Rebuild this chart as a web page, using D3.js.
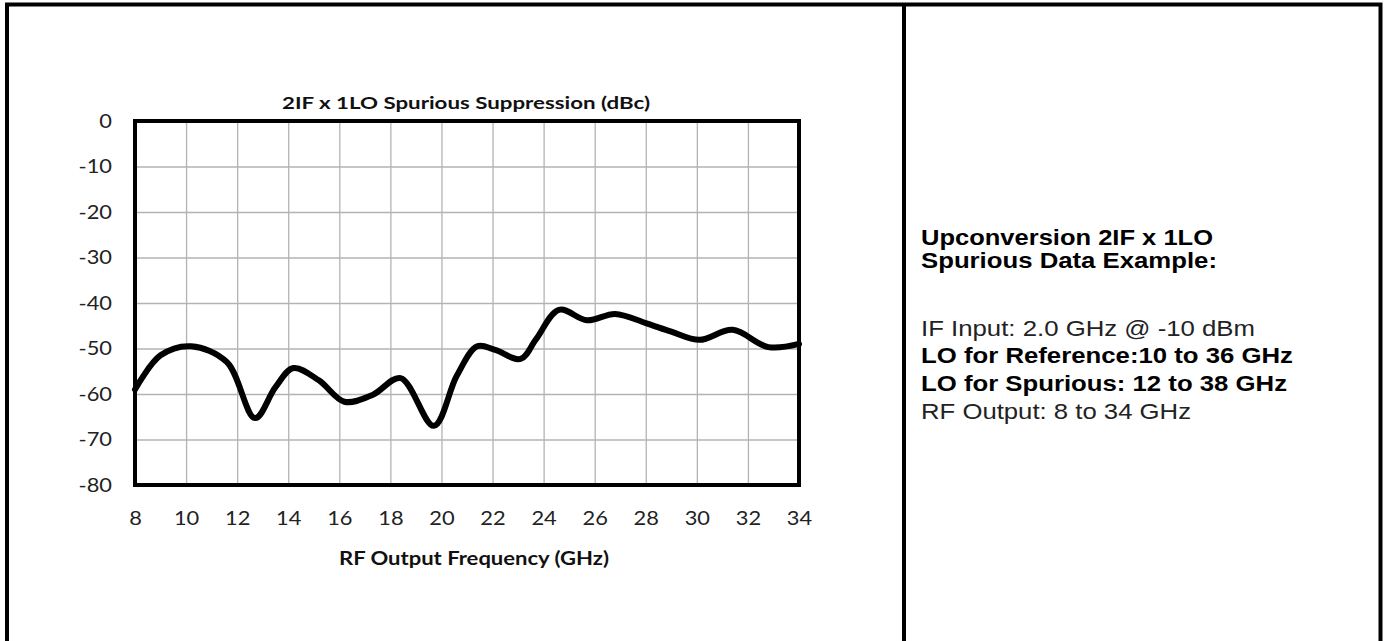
<!DOCTYPE html>
<html>
<head>
<meta charset="utf-8">
<script src="https://cdn.jsdelivr.net/npm/d3@7"></script>
<style>
  html, body { margin: 0; padding: 0; background: #fff; }
  svg { display: block; }
</style>
</head>
<body>
<svg id="chart" width="1385" height="641"></svg>
<script>
// ---- Data ----
const chartTitle = "2IF x 1LO Spurious Suppression (dBc)";
const xAxisTitle = "RF Output Frequency (GHz)";
const xTicks = [8, 10, 12, 14, 16, 18, 20, 22, 24, 26, 28, 30, 32, 34];
const yTicks = [0, -10, -20, -30, -40, -50, -60, -70, -80];
const freqGHz = [8, 9, 10.2, 11.6, 12.7, 13.5, 14.2, 15.2, 16.2, 17.3, 18.4, 19.7, 20.6, 21.4, 22.1, 23.1, 23.7, 24.6, 25.7, 26.8, 28.0, 29.0, 30.1, 31.4, 32.8, 34];
const suppressionDbc = [-59, -51.5, -49.5, -53, -65.3, -58.5, -54.3, -57, -61.7, -60.2, -56.5, -67, -56, -49.5, -50.3, -52.3, -48, -41.5, -43.8, -42.4, -44.4, -46.3, -48.1, -45.9, -49.7, -49];
const noteHeader = ["Upconversion 2IF x 1LO", "Spurious Data Example:"];
const noteLines = [
  { text: "IF Input: 2.0 GHz @ -10 dBm", bold: false },
  { text: "LO for Reference:10 to 36 GHz", bold: true },
  { text: "LO for Spurious: 12 to 38 GHz", bold: true },
  { text: "RF Output: 8 to 34 GHz", bold: false }
];

// ---- Layout ----
const svg = d3.select("#chart");
const plot = { left: 135, right: 799, top: 121, bottom: 485 };
const x = d3.scaleLinear().domain([8, 34]).range([plot.left, plot.right]);
const y = d3.scaleLinear().domain([-80, 0]).range([plot.bottom, plot.top]);
const stretch = 1.15; // reference image is horizontally stretched

// Outer frame
const frame = svg.append("g").attr("stroke", "#000").attr("stroke-width", 4).attr("fill", "none");
frame.append("path").attr("d", "M7,645 L7,4.5 L1380.5,4.5 L1380.5,645");
frame.append("line").attr("x1", 904).attr("x2", 904).attr("y1", 4.5).attr("y2", 645);

// Gridlines
svg.append("g")
  .attr("transform", `translate(0,${plot.bottom})`)
  .call(d3.axisBottom(x).tickValues(xTicks).tickSize(-(plot.bottom - plot.top)).tickFormat(""))
  .call(g => g.select(".domain").remove())
  .call(g => g.selectAll("line").attr("stroke", "#b3b3b3").attr("stroke-width", 1.3));
svg.append("g")
  .attr("transform", `translate(${plot.left},0)`)
  .call(d3.axisLeft(y).tickValues(yTicks).tickSize(-(plot.right - plot.left)).tickFormat(""))
  .call(g => g.select(".domain").remove())
  .call(g => g.selectAll("line").attr("stroke", "#b3b3b3").attr("stroke-width", 1.3));

// Tick labels
const chartFont = "Lato, 'Open Sans', sans-serif";
const fmt = d => String(d);
svg.append("g")
  .attr("transform", `translate(0,${plot.bottom + 33})`)
  .call(d3.axisBottom(x).tickValues(xTicks).tickSize(0).tickPadding(0).tickFormat(fmt))
  .call(g => g.select(".domain").remove())
  .call(g => g.selectAll("text")
    .attr("font-family", chartFont).attr("font-size", 19).attr("fill", "#222")
    .attr("y", 0).attr("dy", "0.35em")
    .attr("transform", `scale(${stretch},1)`));
svg.append("g")
  .attr("transform", `translate(112,0)`)
  .call(d3.axisLeft(y).tickValues(yTicks).tickSize(0).tickPadding(0).tickFormat(fmt))
  .call(g => g.select(".domain").remove())
  .call(g => g.selectAll("text")
    .attr("font-family", chartFont).attr("font-size", 19).attr("fill", "#222")
    .attr("x", 0)
    .attr("transform", `scale(${stretch},1)`));

// Plot border
svg.append("rect")
  .attr("x", plot.left).attr("y", plot.top)
  .attr("width", plot.right - plot.left).attr("height", plot.bottom - plot.top)
  .attr("fill", "none").attr("stroke", "#000").attr("stroke-width", 4);

// Line
const line = d3.line()
  .x((d, i) => x(freqGHz[i]))
  .y(d => y(d))
  .curve(d3.curveCatmullRom.alpha(0.5));
svg.append("path")
  .datum(suppressionDbc)
  .attr("d", line)
  .attr("fill", "none").attr("stroke", "#000").attr("stroke-width", 6)
  .attr("stroke-linejoin", "round").attr("stroke-linecap", "round");

// Titles
svg.append("text")
  .attr("x", 466).attr("y", 109)
  .attr("text-anchor", "middle")
  .attr("font-family", chartFont).attr("font-weight", "bold").attr("font-size", 17.5)
  .attr("fill", "#111")
  .attr("textLength", 368).attr("lengthAdjust", "spacingAndGlyphs")
  .text(chartTitle);
svg.append("text")
  .attr("x", 474).attr("y", 565)
  .attr("text-anchor", "middle")
  .attr("font-family", chartFont).attr("font-weight", "bold").attr("font-size", 19)
  .attr("fill", "#111")
  .attr("textLength", 270).attr("lengthAdjust", "spacingAndGlyphs")
  .text(xAxisTitle);

// Note panel
const noteFont = "'Liberation Sans', Arial, sans-serif";
const note = svg.append("g").attr("font-family", noteFont).attr("font-size", 22).attr("fill", "#000");
const headerWidths = [292, 296];
noteHeader.forEach((t, i) => {
  note.append("text").attr("x", 921).attr("y", 244.5 + i * 23.5)
    .attr("font-weight", "bold")
    .attr("textLength", headerWidths[i]).attr("lengthAdjust", "spacingAndGlyphs")
    .text(t);
});
const lineWidths = [334, 372, 366, 270];
noteLines.forEach((l, i) => {
  note.append("text").attr("x", 921).attr("y", 335.5 + i * 27.7)
    .attr("font-weight", l.bold ? "bold" : "normal")
    .attr("fill", l.bold ? "#000" : "#222")
    .attr("textLength", lineWidths[i]).attr("lengthAdjust", "spacingAndGlyphs")
    .text(l.text);
});
</script>
</body>
</html>
